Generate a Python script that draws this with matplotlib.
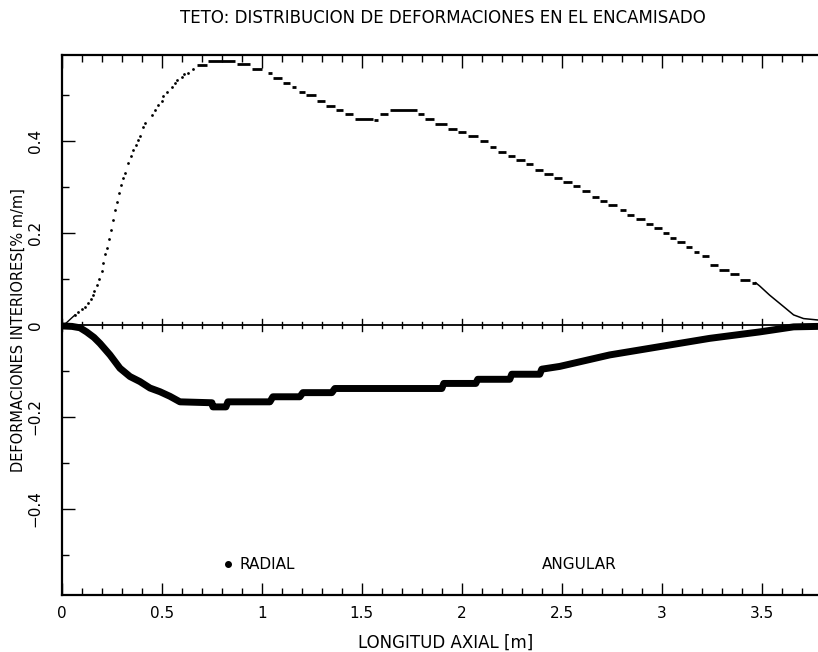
import matplotlib
matplotlib.use("Agg")
import matplotlib.pyplot as plt
from matplotlib import font_manager
import numpy as np

# angular strain: dotted rise, stepped plateau/descent, solid tail
ang_rise_x = [0.065, 0.082, 0.098, 0.115, 0.132, 0.143, 0.153, 0.162, 0.173, 0.185,
              0.198, 0.207, 0.217, 0.227, 0.237, 0.245, 0.257, 0.265, 0.273, 0.285,
              0.293, 0.307, 0.317, 0.332, 0.343, 0.357, 0.370, 0.382, 0.390, 0.403,
              0.417, 0.448, 0.465, 0.478, 0.498, 0.507, 0.527, 0.548, 0.565, 0.577,
              0.598, 0.610, 0.628, 0.657]
ang_rise_y = [0.022, 0.029, 0.034, 0.040, 0.047, 0.056, 0.065, 0.075, 0.087, 0.099,
              0.118, 0.134, 0.154, 0.167, 0.186, 0.207, 0.228, 0.249, 0.268, 0.288,
              0.305, 0.319, 0.330, 0.352, 0.368, 0.381, 0.391, 0.402, 0.411, 0.430,
              0.439, 0.457, 0.468, 0.478, 0.488, 0.497, 0.507, 0.518, 0.527, 0.533,
              0.540, 0.546, 0.549, 0.557]

ang_step_x0 = [0.673, 0.732, 0.873, 0.950, 1.030, 1.055, 1.105, 1.150, 1.185, 1.220,
               1.275, 1.320, 1.370, 1.415, 1.465, 1.560, 1.590, 1.640, 1.780, 1.815,
               1.865, 1.930, 1.980, 2.030, 2.090, 2.140, 2.180, 2.230, 2.270, 2.320,
               2.365, 2.410, 2.460, 2.505, 2.555, 2.600, 2.650, 2.690, 2.730, 2.790,
               2.825, 2.870, 2.920, 2.960, 3.005, 3.040, 3.075, 3.120, 3.160, 3.200,
               3.240, 3.285, 3.340, 3.390, 3.450]
ang_step_x1 = [0.723, 0.865, 0.940, 1.000, 1.050, 1.100, 1.140, 1.170, 1.215, 1.270,
               1.315, 1.365, 1.405, 1.455, 1.555, 1.580, 1.630, 1.775, 1.810, 1.860,
               1.925, 1.975, 2.020, 2.080, 2.130, 2.170, 2.220, 2.265, 2.315, 2.355,
               2.405, 2.455, 2.500, 2.550, 2.590, 2.640, 2.685, 2.725, 2.775, 2.820,
               2.860, 2.915, 2.955, 3.000, 3.035, 3.070, 3.115, 3.150, 3.185, 3.235,
               3.280, 3.335, 3.385, 3.440, 3.470]
ang_step_y = [0.565, 0.574, 0.567, 0.557, 0.547, 0.536, 0.527, 0.518, 0.507, 0.500,
              0.488, 0.476, 0.467, 0.458, 0.449, 0.446, 0.458, 0.467, 0.458, 0.448,
              0.437, 0.427, 0.419, 0.410, 0.400, 0.388, 0.377, 0.368, 0.359, 0.350,
              0.337, 0.328, 0.319, 0.310, 0.302, 0.291, 0.279, 0.270, 0.260, 0.251,
              0.240, 0.230, 0.219, 0.210, 0.200, 0.190, 0.180, 0.170, 0.158, 0.149,
              0.130, 0.120, 0.110, 0.098, 0.092]

ang_start_x = [0.0, 0.02, 0.04, 0.065]
ang_start_y = [0.0, 0.004, 0.012, 0.022]
ang_tail_x = [3.47, 3.49, 3.54, 3.61, 3.66, 3.71, 3.78]
ang_tail_y = [0.092, 0.085, 0.065, 0.040, 0.022, 0.014, 0.011]

# radial strain (thick stepped curve)
rad_x = [0.0, 0.05, 0.09, 0.123, 0.16, 0.19, 0.24, 0.29, 0.34, 0.39, 0.44, 0.49,
         0.54, 0.59, 0.75, 0.755, 0.82, 0.83, 1.04, 1.055, 1.19, 1.205, 1.35,
         1.365, 1.90, 1.91, 2.07, 2.08, 2.24, 2.25, 2.39, 2.40, 2.49, 2.74, 2.99,
         3.24, 3.49, 3.66, 3.78]
rad_y = [-0.002, -0.003, -0.006, -0.015, -0.027, -0.040, -0.065, -0.094, -0.112,
         -0.123, -0.137, -0.145, -0.155, -0.167, -0.169, -0.178, -0.178, -0.167,
         -0.167, -0.156, -0.156, -0.147, -0.147, -0.138, -0.138, -0.127, -0.127,
         -0.118, -0.118, -0.107, -0.107, -0.096, -0.090, -0.065, -0.047, -0.029,
         -0.015, -0.004, -0.003]

x_ticks = [0, 0.5, 1, 1.5, 2, 2.5, 3, 3.5]
x_tick_labels = ["0", "0.5", "1", "1.5", "2", "2.5", "3", "3.5"]
y_ticks = [-0.4, -0.2, 0, 0.2, 0.4]
y_tick_labels = ["\u22120.4", "\u22120.2", "0", "0.2", "0.4"]

names = {f.name for f in font_manager.fontManager.ttflist}
fam = "Liberation Sans Narrow" if "Liberation Sans Narrow" in names else "DejaVu Sans"
plt.rcParams["font.family"] = [fam, "DejaVu Sans"]

fig = plt.figure(figsize=(8.18, 6.52), dpi=100)
ax = fig.add_axes([0.0758, 0.0874, 0.9237, 0.8282])

ax.plot(ang_start_x, ang_start_y, color="black", lw=1.0)
ax.scatter(ang_rise_x, ang_rise_y, s=4, color="black", linewidths=0)
ax.hlines(ang_step_y, ang_step_x0, ang_step_x1, color="black", lw=2.0)
ax.plot(ang_tail_x, ang_tail_y, color="black", lw=1.1)

ax.plot(rad_x, rad_y, color="black", lw=5.0, solid_joinstyle="round",
        solid_capstyle="round")

# zero line with its own tick marks
ax.axhline(0, color="black", lw=1.3)
minor_x = np.arange(0, 3.8, 0.1)
for xv in minor_x:
    h = 0.013 if abs(xv / 0.5 - round(xv / 0.5)) < 1e-6 else 0.007
    ax.plot([xv, xv], [-h, h], color="black", lw=1.0)

ax.set_xlim(0, 3.78)
ax.set_ylim(-0.587, 0.587)
ax.set_xticks(x_ticks)
ax.set_xticklabels(x_tick_labels)
ax.set_xticks(np.arange(0, 3.8, 0.1), minor=True)
ax.set_yticks(y_ticks)
ax.set_yticklabels(y_tick_labels, rotation=90, va="center")
ax.set_yticks(np.arange(-0.5, 0.55, 0.1), minor=True)

ax.tick_params(axis="both", which="both", direction="in", labelsize=11,
               top=True, right=False, width=1.0)
ax.tick_params(axis="x", which="major", length=9, pad=8)
ax.tick_params(axis="x", which="minor", length=5)
ax.tick_params(axis="y", which="major", length=9, pad=14)
ax.tick_params(axis="y", which="minor", length=5)

for side in ["left", "bottom", "top"]:
    ax.spines[side].set_linewidth(1.6)
ax.spines["right"].set_visible(False)

ax.set_xlabel("LONGITUD AXIAL [m]", fontsize=12)
ax.xaxis.set_label_coords(0.508, -0.089)
ax.xaxis.label.set_va("center")
ax.set_ylabel("DEFORMACIONES INTERIORES[% m/m]", fontsize=10.5)
ax.yaxis.set_label_coords(-0.058, 0.49)
ax.yaxis.label.set_va("center")
fig.text(0.542, 0.972, "TETO: DISTRIBUCION DE DEFORMACIONES EN EL ENCAMISADO",
         ha="center", va="center", fontsize=12)

# series key inside the plot
ax.plot([0.83], [-0.52], marker="o", ms=4, color="black")
ax.text(0.89, -0.52, "RADIAL", fontsize=11, va="center")
ax.text(2.40, -0.52, "ANGULAR", fontsize=11, va="center")

fig.savefig("out.png", dpi=100)
